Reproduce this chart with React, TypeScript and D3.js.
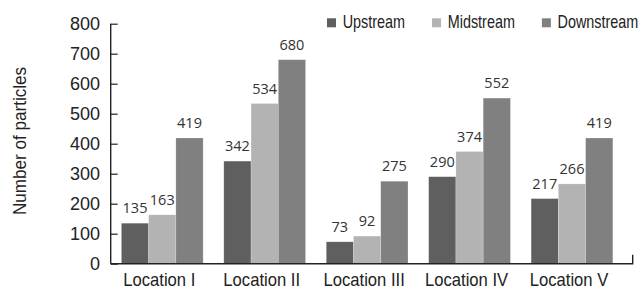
import React, { useEffect, useRef } from "react";
import * as d3 from "d3";

// chart data
const locations = ["Location I", "Location II", "Location III", "Location IV", "Location V"];
const seriesNames = ["Upstream", "Midstream", "Downstream"];
const upstream = [135, 342, 73, 290, 217];
const midstream = [163, 534, 92, 374, 266];
const downstream = [419, 680, 275, 552, 419];
const yTicks = [0, 100, 200, 300, 400, 500, 600, 700, 800];

const seriesColors = ["#5f5f5f", "#b3b3b3", "#808080"];

const App = () => {
  const ref = useRef<SVGSVGElement>(null);

  useEffect(() => {
    document.body.style.margin = "0";
    const svg = d3.select(ref.current);
    svg.selectAll("*").remove();

    const width = 643;
    const height = 290;
    const left = 110.7;
    const right = 632.7;
    const top = 23.7;
    const bottom = 263.7;
    const sans = "'Liberation Sans', Arial, sans-serif";

    svg.attr("width", width).attr("height", height);

    const yScale = d3.scaleLinear().domain([0, 800]).range([bottom, top]);
    const xScale = d3
      .scaleBand<string>()
      .domain(locations)
      .range([left, right])
      .paddingInner(0.202)
      .paddingOuter(0.149)
      .align(0.35);
    const xSub = d3
      .scaleBand<string>()
      .domain(seriesNames)
      .range([0, xScale.bandwidth()]);

    const series = [upstream, midstream, downstream];
    const rows = locations.flatMap((loc, i) =>
      seriesNames.map((name, s) => ({ loc, name, s, value: series[s][i] }))
    );

    // bars
    svg
      .append("g")
      .selectAll("rect")
      .data(rows)
      .join("rect")
      .attr("x", (d) => (xScale(d.loc) as number) + (xSub(d.name) as number))
      .attr("y", (d) => yScale(d.value))
      .attr("width", xSub.bandwidth())
      .attr("height", (d) => yScale(0) - yScale(d.value))
      .attr("fill", (d) => seriesColors[d.s])
      .attr("stroke", "#ffffff")
      .attr("stroke-opacity", 0.35)
      .attr("stroke-width", 0.6);

    // value labels
    svg
      .append("g")
      .selectAll("text")
      .data(rows)
      .join("text")
      .attr("x", (d) => (xScale(d.loc) as number) + (xSub(d.name) as number) + xSub.bandwidth() / 2)
      .attr("y", (d) => yScale(d.value) - 10)
      .attr("text-anchor", "middle")
      .style("font-family", "'Open Sans', 'DejaVu Sans', sans-serif")
      .style("font-size", "14.5px")
      .attr("fill", "#333")
      .text((d) => d.value);

    // y axis (ticks point inward)
    const yAxis = svg
      .append("g")
      .attr("transform", `translate(${left},0)`)
      .call(d3.axisRight(yScale).tickValues(yTicks).tickSize(7).tickFormat(() => ""));
    yAxis.select(".domain").remove();
    yAxis.selectAll("line").attr("stroke", "#222").attr("stroke-width", 1.2);
    svg
      .append("line")
      .attr("x1", left)
      .attr("x2", left)
      .attr("y1", yScale(800))
      .attr("y2", yScale(0))
      .attr("stroke", "#222")
      .attr("stroke-width", 1.4);

    svg
      .append("g")
      .selectAll("text")
      .data(yTicks)
      .join("text")
      .attr("x", left - 10.7)
      .attr("y", (d) => yScale(d))
      .attr("dy", "0.36em")
      .attr("text-anchor", "end")
      .style("font-family", sans)
      .style("font-size", "18px")
      .attr("fill", "#222")
      .text((d) => d);

    // x axis
    svg
      .append("path")
      .attr("d", `M${left},${yScale(0)}H${right}V${yScale(0) - 9}`)
      .attr("fill", "none")
      .attr("stroke", "#222")
      .attr("stroke-width", 1.4);

    svg
      .append("g")
      .selectAll("text")
      .data(locations)
      .join("text")
      .attr(
        "transform",
        (d) => `translate(${(xScale(d) as number) + xScale.bandwidth() / 2 - 3},286) scale(0.875,1)`
      )
      .attr("text-anchor", "middle")
      .style("font-family", sans)
      .style("font-size", "19px")
      .attr("fill", "#222")
      .text((d) => d);

    // y axis title
    svg
      .append("text")
      .attr("transform", "translate(26,141) rotate(-90) scale(0.9,1)")
      .attr("text-anchor", "middle")
      .style("font-family", sans)
      .style("font-size", "19px")
      .attr("fill", "#222")
      .text("Number of particles");

    // legend
    const legend = svg.append("g");
    let lx = 327;
    seriesNames.forEach((name, s) => {
      legend
        .append("rect")
        .attr("x", lx)
        .attr("y", 18.3)
        .attr("width", 9)
        .attr("height", 9)
        .attr("fill", seriesColors[s]);
      const t = legend
        .append("text")
        .attr("transform", `translate(${lx + 15.7},28) scale(0.8,1)`)
        .style("font-family", sans)
        .style("font-size", "18px")
        .attr("fill", "#222")
        .text(name);
      const w = (t.node() as SVGTextElement).getComputedTextLength() * 0.8;
      lx += 15.7 + w + 27;
    });
  }, []);

  return <svg ref={ref} style={{ display: "block" }} />;
};

export default App;
